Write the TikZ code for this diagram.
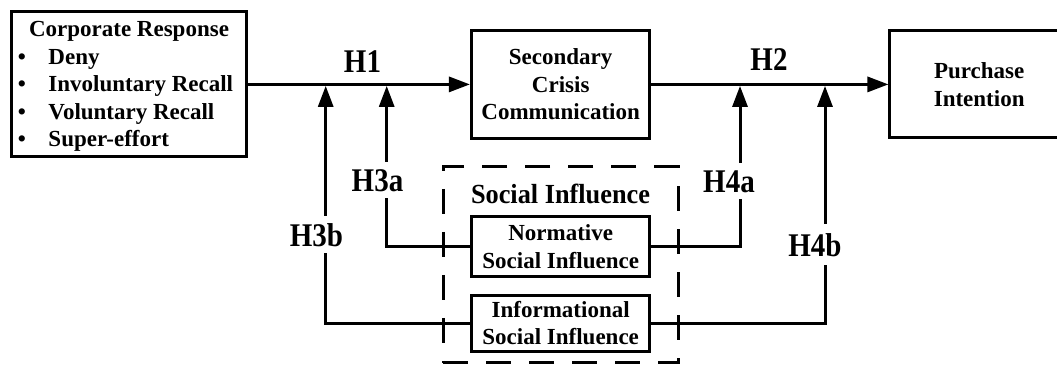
\documentclass[tikz,border=0pt]{standalone}
\usepackage{fontspec}
\usepackage{graphicx}
\setmainfont{Liberation Serif}
\usetikzlibrary{arrows.meta}
\newcommand\myboxfont{\fontsize{23}{27.5}\selectfont\bfseries}
\newcommand\myhfont{\fontsize{29}{29}\selectfont\bfseries}
\newcommand\mytitlefont{\fontsize{26.3}{28}\selectfont\bfseries}
\newcommand\mystretch[1]{\scalebox{1}[1.14]{#1}}
\begin{document}
\begin{tikzpicture}[x=1pt,y=-1pt,
  box/.style={draw, line width=3pt, inner sep=0pt, align=center, font=\myboxfont},
  dashbox/.style={draw, line width=3pt, inner sep=0pt, dash pattern=on 25pt off 18pt},
  txt/.style={inner sep=0pt, font=\myboxfont},
  hlab/.style={inner xsep=1pt, inner ysep=8pt, font=\myhfont},
  arr/.style={line width=3pt, -{Triangle[length=21pt,width=15pt]}}]
\useasboundingbox (0,0) rectangle (1057,367);
% boxes
\node[box, minimum width=235pt, minimum height=145pt] (cr) at (129,84.4) {};
\node[txt, anchor=base] (crt) at (129,36) {Corporate Response};
\node[txt, anchor=base west] (i1) at (17.7,64.3) {\makebox[30.6pt][l]{•}Deny};
\node[txt, anchor=base west] (i2) at (17.7,91.8) {\makebox[30.6pt][l]{•}Involuntary Recall};
\node[txt, anchor=base west] (i3) at (17.7,119.3) {\makebox[30.6pt][l]{•}Voluntary Recall};
\node[txt, anchor=base west] (i4) at (17.7,146.8) {\makebox[30.6pt][l]{•}Super-effort};
\node[box, minimum width=178.5pt, minimum height=107.5pt] (sec) at (560.7,84.4) {Secondary\\Crisis\\Communication};
\node[box, minimum width=178.5pt, minimum height=107pt] (pur) at (979.2,84.4) {Purchase\\Intention};
\node[dashbox, minimum width=234.7pt, minimum height=196.3pt] (si) at (560.7,264.8) {};
\node[inner sep=0pt, font=\mytitlefont, anchor=base] (sit) at (560.5,203) {\scalebox{1}[1.05]{Social Influence}};
\node[box, minimum width=178.5pt, minimum height=60pt] (nsi) at (560.7,246.6) {Normative\\Social Influence};
\node[box, minimum width=178.5pt, minimum height=56pt] (isi) at (560.7,323) {Informational\\Social Influence};
% junctions on the main lines
\coordinate (j3b) at (325.7,85.9);
\coordinate (j3a) at (386.7,85.9);
\coordinate (j4a) at (740,85.9);
\coordinate (j4b) at (825,85.9);
% connectors
\draw[arr] (cr.east) -- (sec.west);
\draw[arr] (sec.east) -- (pur.west);
\draw[arr] (nsi.west) -| (j3a);
\draw[arr] (isi.west) -| (j3b);
\draw[arr] (nsi.east) -| (j4a);
\draw[arr] (isi.east) -| (j4b);
% labels
\node[hlab, anchor=base] (h1) at (362.5,72) {\mystretch{H1}};
\node[hlab, anchor=base] (h2) at (769,70) {\mystretch{H2}};
\node[hlab, fill=white, anchor=base, inner ysep=7pt] (h3a) at (377.5,191) {\mystretch{H3a}};
\node[hlab, fill=white, anchor=base, inner ysep=7pt] (h3b) at (316.5,246) {\mystretch{H3b}};
\node[hlab, fill=white, anchor=base, inner ysep=7pt] (h4a) at (729,192) {\mystretch{H4a}};
\node[hlab, fill=white, anchor=base, inner ysep=9pt] (h4b) at (815,256) {\mystretch{H4b}};
\end{tikzpicture}
\end{document}
